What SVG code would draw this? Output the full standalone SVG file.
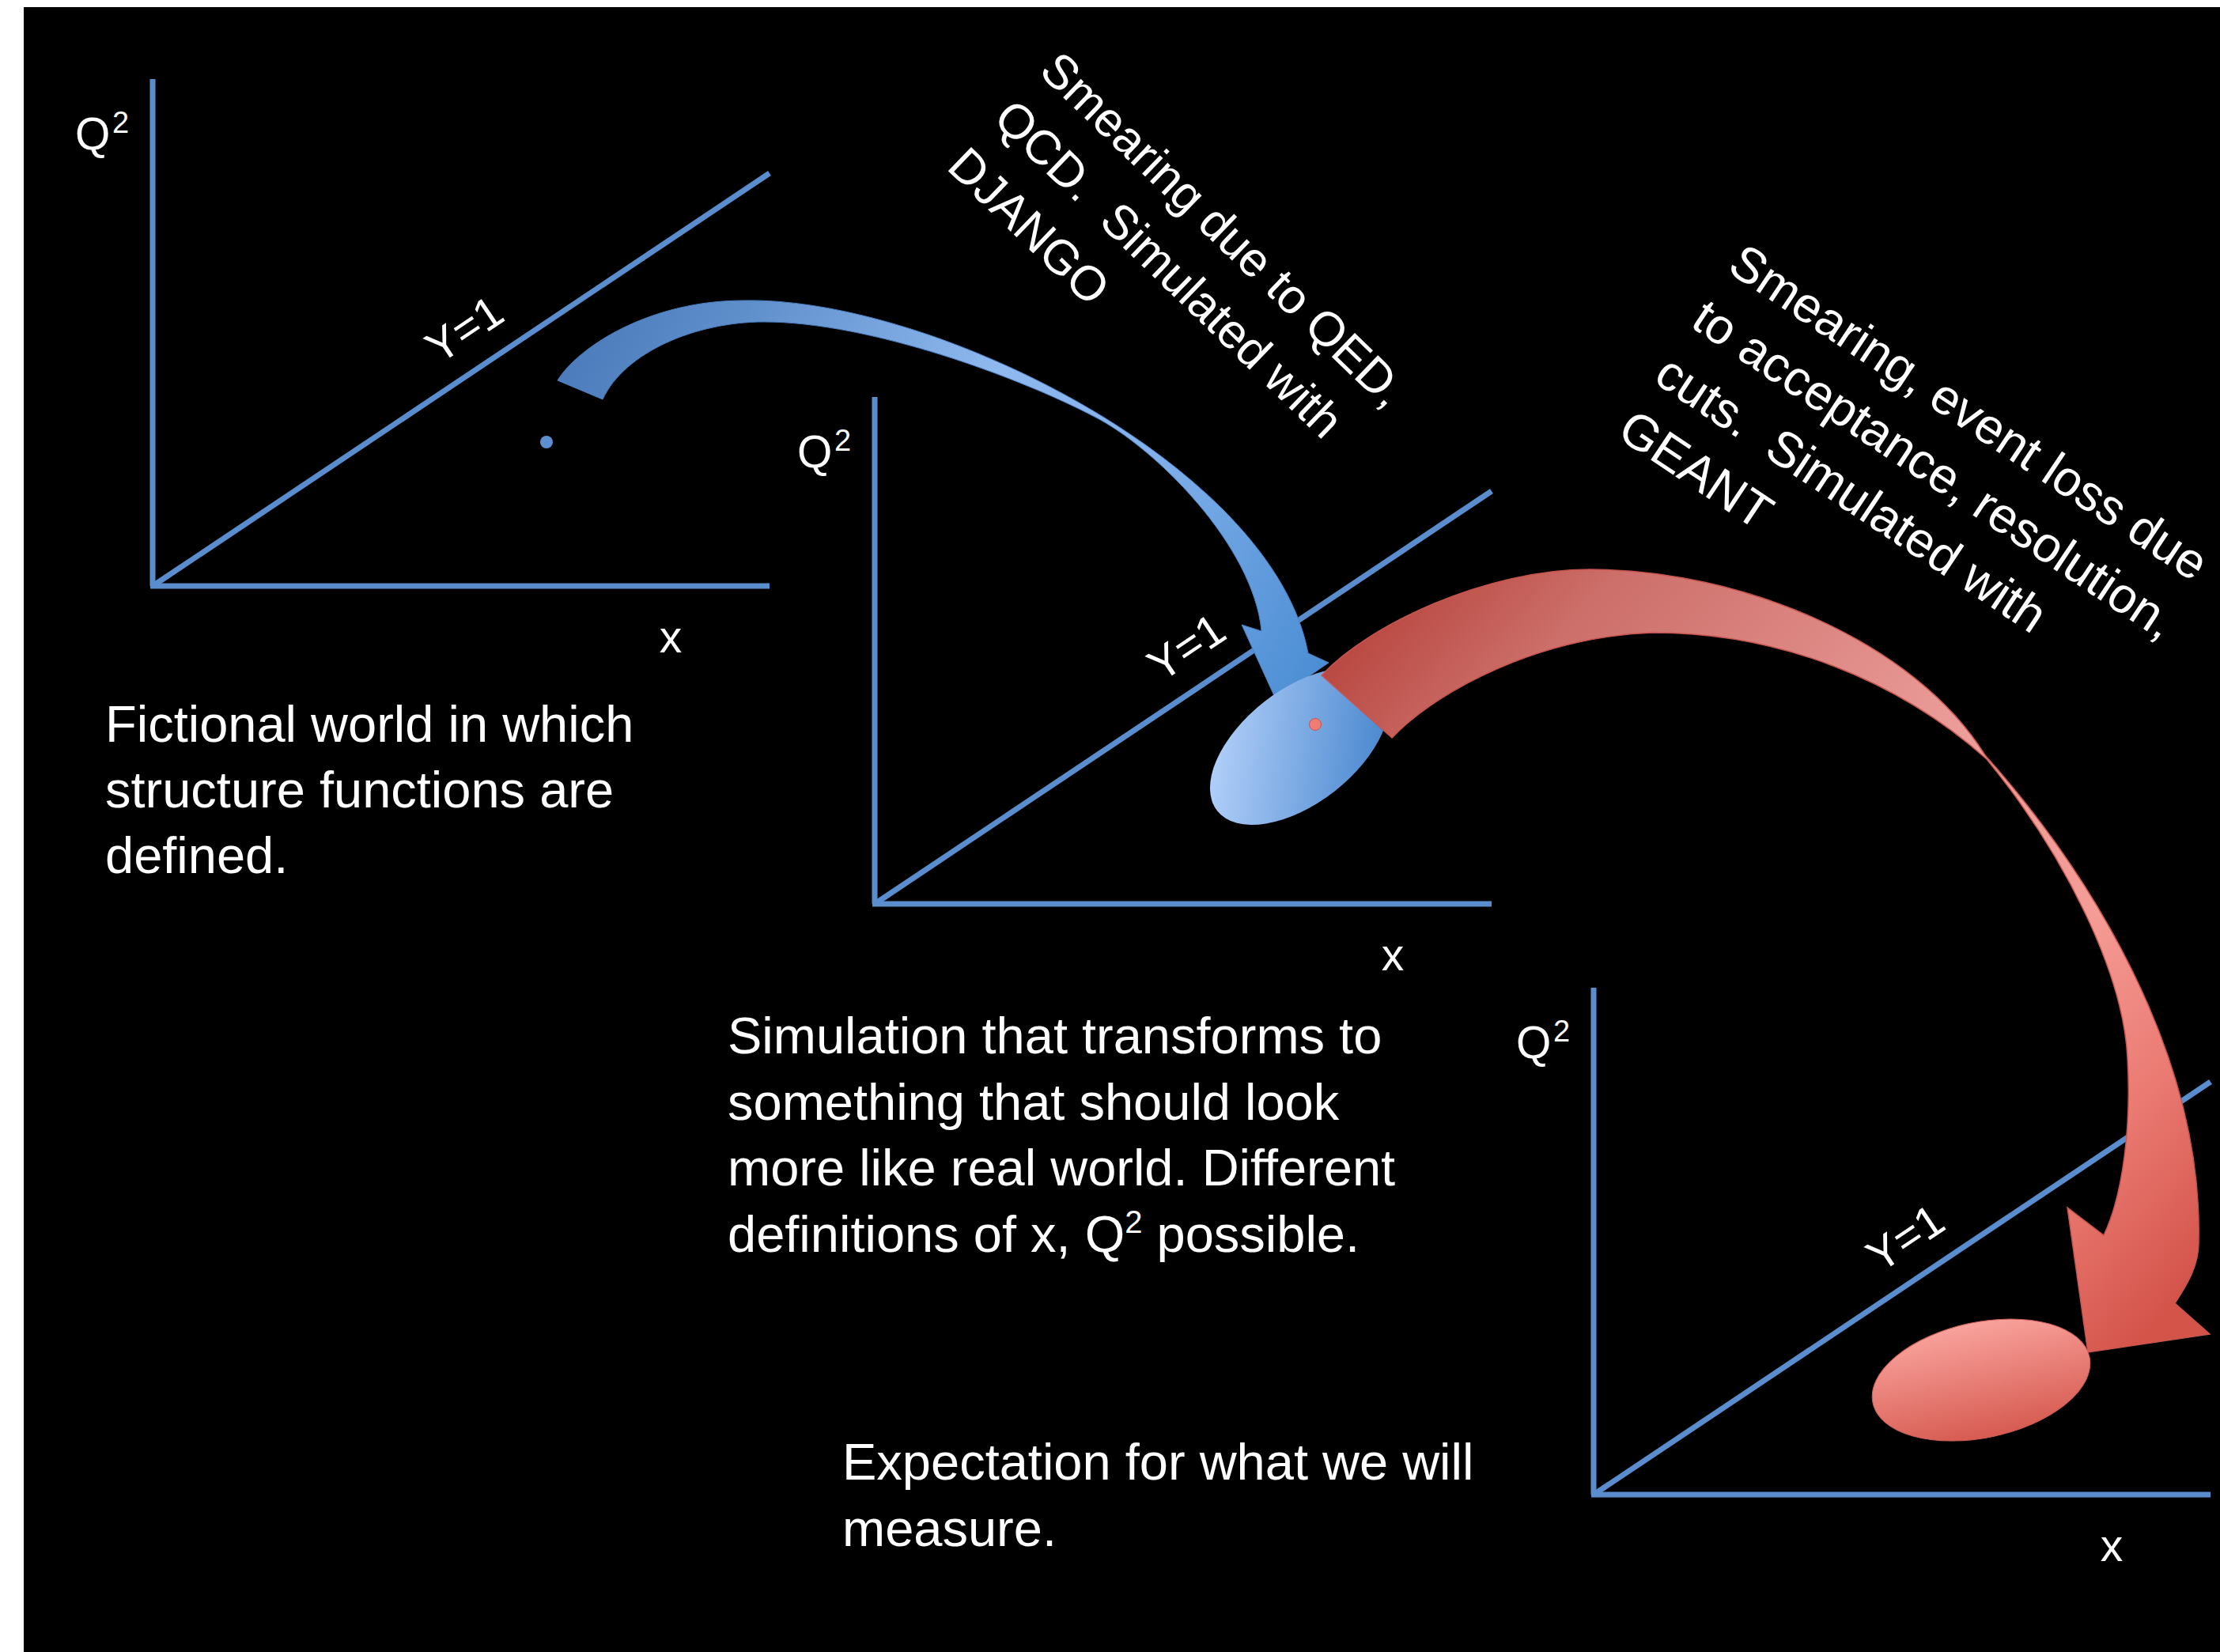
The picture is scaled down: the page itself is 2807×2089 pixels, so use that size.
<svg xmlns="http://www.w3.org/2000/svg" width="2807" height="2089" viewBox="0 0 2807 2089">
<style>
.ax{stroke:#5a8dcd;stroke-width:7;fill:none;stroke-linecap:butt}
.t{font-family:"Liberation Sans",Arial,sans-serif;fill:#ffffff}
.lab{font-size:57px}
.sup{font-size:38px}
.body{font-size:65px}
</style>
<defs>
<linearGradient id="gBlueArrow" gradientUnits="userSpaceOnUse" x1="700" y1="400" x2="1650" y2="880">
<stop offset="0" stop-color="#4877b8"/><stop offset="0.2" stop-color="#5f8fcb"/><stop offset="0.5" stop-color="#8fb9ef"/><stop offset="0.7" stop-color="#84b1eb"/><stop offset="1" stop-color="#4c8ed4"/>
</linearGradient>
<linearGradient id="gBlueEll" gradientUnits="userSpaceOnUse" x1="1570" y1="870" x2="1720" y2="1020">
<stop offset="0" stop-color="#afcdf8"/><stop offset="1" stop-color="#4a88cf"/>
</linearGradient>
<linearGradient id="gRedArrow" gradientUnits="userSpaceOnUse" x1="1700" y1="800" x2="2700" y2="1700">
<stop offset="0" stop-color="#b8463f"/><stop offset="0.15" stop-color="#cc6e69"/><stop offset="0.5" stop-color="#ec9e9b"/><stop offset="0.7" stop-color="#f59c96"/><stop offset="0.85" stop-color="#ea7a72"/><stop offset="1" stop-color="#d4544a"/>
</linearGradient>
<linearGradient id="gRedEll" gradientUnits="userSpaceOnUse" x1="2505" y1="1670" x2="2505" y2="1820">
<stop offset="0" stop-color="#f9a39d"/><stop offset="1" stop-color="#d65a50"/>
</linearGradient>
</defs>
<rect x="0" y="0" width="2807" height="2089" fill="#ffffff"/>
<rect x="30" y="9" width="2777" height="2080" fill="#000000"/>

<g id="chart1">
<line class="ax" x1="193" y1="100" x2="193" y2="741"/>
<line class="ax" x1="190" y1="741" x2="973" y2="741"/>
<line class="ax" x1="193" y1="741" x2="973" y2="219"/>
<text class="t lab" x="95" y="189">Q</text><text class="t sup" x="142" y="168">2</text>
<text class="t lab" x="848" y="825" text-anchor="middle">x</text>
<text class="t lab" transform="translate(587,416) rotate(-33.8)" y="20" text-anchor="middle">Y=1</text>
<circle cx="691" cy="559" r="8" fill="#5b8fd0"/>
</g>

<g id="chart2" transform="translate(913,402)">
<line class="ax" x1="193" y1="100" x2="193" y2="741"/>
<line class="ax" x1="190" y1="741" x2="973" y2="741"/>
<line class="ax" x1="193" y1="741" x2="973" y2="219"/>
<text class="t lab" x="95" y="189">Q</text><text class="t sup" x="142" y="168">2</text>
<text class="t lab" x="848" y="825" text-anchor="middle">x</text>
<text class="t lab" transform="translate(587,416) rotate(-33.8)" y="20" text-anchor="middle">Y=1</text>
</g>

<g id="chart3" transform="translate(1822,1149)">
<line class="ax" x1="193" y1="100" x2="193" y2="741"/>
<line class="ax" x1="190" y1="741" x2="973" y2="741"/>
<line class="ax" x1="193" y1="741" x2="973" y2="219"/>
<text class="t lab" x="95" y="189">Q</text><text class="t sup" x="142" y="168">2</text>
<text class="t lab" x="848" y="825" text-anchor="middle">x</text>
<text class="t lab" transform="translate(587,416) rotate(-33.8)" y="20" text-anchor="middle">Y=1</text>
</g>

<g id="connectors">
<path id="blueArrow" fill="url(#gBlueArrow)" stroke="#4a7fc0" stroke-width="1" d="M705,481 C730,440 820,380 940,380 C1180,375 1610,590 1654,826 L1680,838 L1613,884 L1570,790 L1595,798 C1585,690 1460,565 1382,526 C1290,478 1100,407 966,407 C880,407 790,445 762,505 Z"/>
<g id="blueSpot">
<ellipse cx="1643" cy="944" rx="132" ry="72" transform="rotate(-38 1643 944)" fill="url(#gBlueEll)"/>
<circle cx="1663" cy="916" r="7.5" fill="#ef7d74" stroke="#c9534b" stroke-width="1"/>
</g>
<path id="redArrow" fill="url(#gRedArrow)" stroke="#c8564f" stroke-width="1.5" d="M1671,854 C1730,790 1880,720 2010,720 C2200,720 2420,810 2510,955 C2640,1100 2785,1330 2780,1568 C2781,1600 2765,1625 2750,1648 L2794,1687 L2640,1710 L2614,1527 L2660,1562 C2685,1510 2695,1420 2690,1338 C2685,1230 2610,1080 2512,960 C2400,860 2250,800 2090,800 C1950,805 1820,870 1760,933 Z"/>
<ellipse id="redSpot" cx="2505" cy="1745" rx="140" ry="73" transform="rotate(-12 2505 1745)" fill="url(#gRedEll)" stroke="#d0605a" stroke-width="1"/>
</g>

<g id="note1">
<text class="t body" x="133" y="938">Fictional world in which</text>
<text class="t body" x="133" y="1021">structure functions are</text>
<text class="t body" x="133" y="1104">defined.</text>
</g>

<g id="note2">
<text class="t body" x="920" y="1332">Simulation that transforms to</text>
<text class="t body" x="920" y="1416">something that should look</text>
<text class="t body" x="920" y="1499">more like real world. Different</text>
<text class="t body" x="920" y="1583">definitions of x, Q<tspan font-size="40px" dy="-24">2</tspan><tspan dy="24"> possible.</tspan></text>
</g>

<g id="note3">
<text class="t body" x="1065" y="1871">Expectation for what we will</text>
<text class="t body" x="1065" y="1955">measure.</text>
</g>

<g id="labelQED">
<text class="t" font-size="61" transform="translate(1312,92) rotate(44)" xml:space="preserve"><tspan x="0" y="0">Smearing due to QED,</tspan><tspan x="0" y="84">QCD.  Simulated with</tspan><tspan x="0" y="168">DJANGO</tspan></text>
</g>

<g id="labelGEANT">
<text class="t" font-size="63" transform="translate(2182,342) rotate(33.7)" xml:space="preserve"><tspan x="0" y="0">Smearing, event loss due</tspan><tspan x="0" y="84">to acceptance, resolution,</tspan><tspan x="0" y="168">cuts.  Simulated with</tspan><tspan x="0" y="252">GEANT</tspan></text>
</g>
</svg>
